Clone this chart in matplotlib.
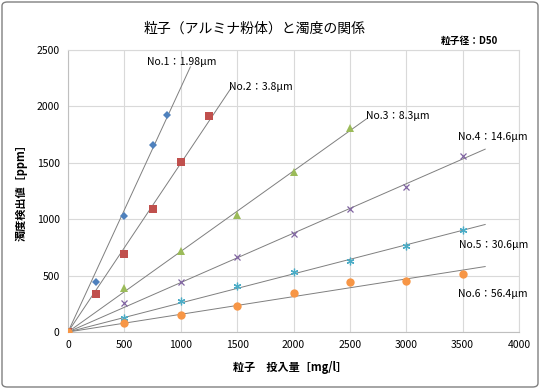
import numpy as np
import matplotlib
matplotlib.use("Agg")
import matplotlib.pyplot as plt
from matplotlib.patches import FancyBboxPatch

plt.rcParams['font.family'] = ['Noto Sans CJK JP', 'DejaVu Sans']

title = "粒子（アルミナ粉体）と濁度の関係"
note = "粒子径：D50"
xlabel = "粒子　投入量［mg/l］"
ylabel = "濁度検出値［ppm］"

names = ["No.1：1.98μm", "No.2：3.8μm", "No.3：8.3μm",
         "No.4：14.6μm", "No.5：30.6μm", "No.6：56.4μm"]

x1 = [0, 250, 500, 750, 875]
y1 = [0, 445, 1025, 1660, 1925]
x2 = [0, 250, 500, 750, 1000, 1250]
y2 = [0, 338, 692, 1088, 1503, 1912]
x3 = [0, 500, 1000, 1500, 2000, 2500]
y3 = [0, 388, 718, 1040, 1415, 1805]
x4 = [0, 500, 1000, 1500, 2000, 2500, 3000, 3500]
y4 = [0, 254, 442, 662, 866, 1090, 1287, 1558]
x5 = [0, 500, 1000, 1500, 2000, 2500, 3000, 3500]
y5 = [0, 122, 274, 405, 528, 628, 760, 905]
x6 = [0, 500, 1000, 1500, 2000, 2500, 3000, 3500]
y6 = [0, 78, 149, 228, 348, 446, 452, 512]

xs = [x1, x2, x3, x4, x5, x6]
ys = [y1, y2, y3, y4, y5, y6]

# trendline forecast end (x) and label anchor positions
trend_end = [1085, 1455, 2650, 3700, 3700, 3700]
label_pos = [(700, 2390), (1430, 2175), (2640, 1915), (3460, 1725), (3465, 775), (3460, 335)]

colors = ['#4F81BD', '#C0504D', '#9BBB59', '#8064A2', '#4BACC6', '#F79646']
markers = ['D', 's', '^', 'x', (6, 2, 0), 'o']
msizes = [4, 6, 6, 5, 5.5, 6]

fig = plt.figure(figsize=(5.4, 3.89), dpi=100)
ax = fig.add_axes([68/540, 1-332/389, (519-68)/540, (332-50)/389])

for i in range(6):
    x = np.array(xs[i], float)
    y = np.array(ys[i], float)
    k = np.sum(x*y) / np.sum(x*x)
    xt = np.array([0, trend_end[i]])
    ax.plot(xt, k*xt, color='#7F7F7F', lw=0.7, zorder=2)
    if i == 3 or i == 4:
        ax.plot(x, y, linestyle='none', marker=markers[i], color=colors[i],
                markersize=msizes[i], markeredgewidth=0.9, zorder=3)
    else:
        ax.plot(x, y, linestyle='none', marker=markers[i], color=colors[i],
                markersize=msizes[i], markeredgewidth=0, zorder=3)
    ax.text(label_pos[i][0], label_pos[i][1], names[i], fontsize=7.5,
            ha='left', va='center', color='#000000', zorder=4)

ax.set_xlim(0, 4000)
ax.set_ylim(0, 2500)
ax.set_xticks(np.arange(0, 4001, 500))
ax.set_yticks(np.arange(0, 2501, 500))
ax.grid(True, color='#D9D9D9', lw=0.8)
ax.set_axisbelow(True)
for s in ax.spines.values():
    s.set_color('#D9D9D9')
    s.set_linewidth(0.8)
ax.spines['left'].set_color('#BFBFBF')
ax.spines['bottom'].set_color('#BFBFBF')
ax.tick_params(length=0, labelsize=7.5, pad=6, colors='#000000')

fig.text(255/540, 1-29/389, title, ha='center', va='center', fontsize=10)
fig.text(469/540, 1-41/389, note, ha='center', va='center', fontsize=7, fontweight='bold')
fig.text(290/540, 1-367/389, xlabel, ha='center', va='center', fontsize=8, fontweight='bold')
fig.text(21/540, 1-190/389, ylabel, ha='center', va='center', fontsize=8,
         fontweight='bold', rotation=90)

border = FancyBboxPatch((2/540, 2/389), 536/540, 385/389,
                        boxstyle="round,pad=0,rounding_size=0.01",
                        transform=fig.transFigure, fill=False,
                        edgecolor='#808080', lw=1.0)
fig.patches.append(border)

fig.savefig("out.png", dpi=100)
